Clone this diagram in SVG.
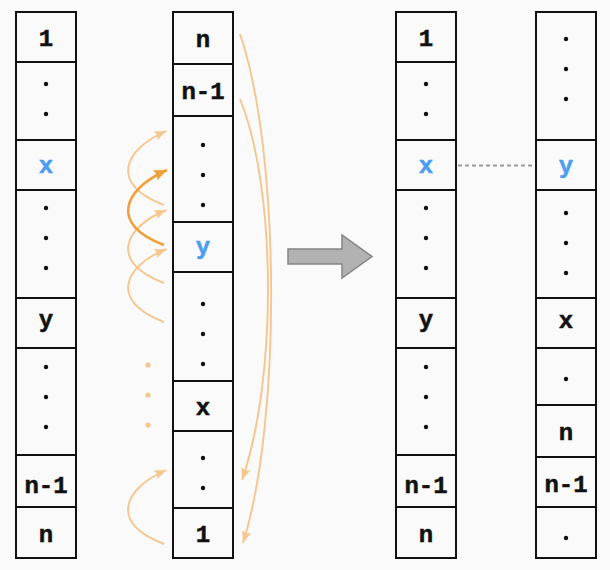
<svg xmlns="http://www.w3.org/2000/svg" width="610" height="570" viewBox="0 0 610 570">
<defs>
<style>
.cell{fill:#fafafa;stroke:#111;stroke-width:2}
.t{font-family:"Liberation Mono","DejaVu Sans Mono",monospace;font-weight:bold;font-size:24px;fill:#111;text-anchor:middle;stroke:#111;stroke-width:0.5}
.b{fill:#4a9df2;stroke:#4a9df2}
.d{fill:#111}
.lo{fill:none;stroke:#f5c68e;stroke-width:1.9}
.do{fill:none;stroke:#f0a03a;stroke-width:2.6}
.od{fill:#f5c68e}
</style>
<marker id="ahl" markerUnits="userSpaceOnUse" markerWidth="13" markerHeight="13" viewBox="0 0 13 13" refX="12" refY="6.5" orient="auto">
<path d="M0,1.8 L12,6.5 L0,11.2 L2,6.5 Z" fill="#f5c68e"/>
</marker>
<marker id="ahd" markerUnits="userSpaceOnUse" markerWidth="14" markerHeight="14" viewBox="0 0 14 14" refX="13" refY="7" orient="auto">
<path d="M0,1.5 L13,7 L0,12.5 L2,7 Z" fill="#f0a03a"/>
</marker>
</defs>
<rect width="610" height="570" fill="#fafafa"/>

<g id="col1">
<g id="c1r1"><rect class="cell" x="16" y="12" width="60" height="50"/><text class="t" x="46" y="46">1</text></g>
<g id="c1r2"><rect class="cell" x="16" y="62" width="60" height="78"/><circle class="d" cx="46" cy="84" r="2.2"/><circle class="d" cx="46" cy="114" r="2.2"/></g>
<g id="c1r3"><rect class="cell" x="16" y="140" width="60" height="50"/><text class="t b" x="46" y="173">x</text></g>
<g id="c1r4"><rect class="cell" x="16" y="190" width="60" height="108"/><circle class="d" cx="46" cy="208" r="2.2"/><circle class="d" cx="46" cy="238" r="2.2"/><circle class="d" cx="46" cy="268" r="2.2"/></g>
<g id="c1r5"><rect class="cell" x="16" y="298" width="60" height="50"/><text class="t" x="46" y="327">y</text></g>
<g id="c1r6"><rect class="cell" x="16" y="348" width="60" height="107"/><circle class="d" cx="46" cy="367" r="2.2"/><circle class="d" cx="46" cy="397" r="2.2"/><circle class="d" cx="46" cy="427" r="2.2"/></g>
<g id="c1r7"><rect class="cell" x="16" y="455" width="60" height="52"/><text class="t" x="46" y="493">n-1</text></g>
<g id="c1r8"><rect class="cell" x="16" y="507" width="60" height="51"/><text class="t" x="46" y="542">n</text></g>
</g>

<g id="col2">
<g id="c2r1"><rect class="cell" x="173" y="12" width="60" height="52"/><text class="t" x="203" y="46.5">n</text></g>
<g id="c2r2"><rect class="cell" x="173" y="64" width="60" height="52"/><text class="t" x="203" y="99">n-1</text></g>
<g id="c2r3"><rect class="cell" x="173" y="116" width="60" height="106"/><circle class="d" cx="203" cy="145" r="2.2"/><circle class="d" cx="203" cy="175" r="2.2"/><circle class="d" cx="203" cy="205" r="2.2"/></g>
<g id="c2r4"><rect class="cell" x="173" y="222" width="60" height="50"/><text class="t b" x="203" y="254">y</text></g>
<g id="c2r5"><rect class="cell" x="173" y="272" width="60" height="109"/><circle class="d" cx="203" cy="304" r="2.2"/><circle class="d" cx="203" cy="334" r="2.2"/><circle class="d" cx="203" cy="364" r="2.2"/></g>
<g id="c2r6"><rect class="cell" x="173" y="381" width="60" height="50"/><text class="t" x="203" y="415">x</text></g>
<g id="c2r7"><rect class="cell" x="173" y="431" width="60" height="77"/><circle class="d" cx="203" cy="458" r="2.2"/><circle class="d" cx="203" cy="488" r="2.2"/></g>
<g id="c2r8"><rect class="cell" x="173" y="508" width="60" height="50"/><text class="t" x="203" y="541.5">1</text></g>
</g>

<g id="col3">
<g id="c3r1"><rect class="cell" x="396" y="12" width="60" height="50"/><text class="t" x="426" y="46">1</text></g>
<g id="c3r2"><rect class="cell" x="396" y="62" width="60" height="78"/><circle class="d" cx="426" cy="84" r="2.2"/><circle class="d" cx="426" cy="114" r="2.2"/></g>
<g id="c3r3"><rect class="cell" x="396" y="140" width="60" height="50"/><text class="t b" x="426" y="173">x</text></g>
<g id="c3r4"><rect class="cell" x="396" y="190" width="60" height="108"/><circle class="d" cx="426" cy="208" r="2.2"/><circle class="d" cx="426" cy="238" r="2.2"/><circle class="d" cx="426" cy="268" r="2.2"/></g>
<g id="c3r5"><rect class="cell" x="396" y="298" width="60" height="50"/><text class="t" x="426" y="327">y</text></g>
<g id="c3r6"><rect class="cell" x="396" y="348" width="60" height="107"/><circle class="d" cx="426" cy="367" r="2.2"/><circle class="d" cx="426" cy="397" r="2.2"/><circle class="d" cx="426" cy="427" r="2.2"/></g>
<g id="c3r7"><rect class="cell" x="396" y="455" width="60" height="52"/><text class="t" x="426" y="493">n-1</text></g>
<g id="c3r8"><rect class="cell" x="396" y="507" width="60" height="51"/><text class="t" x="426" y="542">n</text></g>
</g>

<g id="col4">
<g id="c4r1"><rect class="cell" x="536" y="12" width="60" height="128"/><circle class="d" cx="566" cy="39" r="2.2"/><circle class="d" cx="566" cy="69" r="2.2"/><circle class="d" cx="566" cy="99" r="2.2"/></g>
<g id="c4r2"><rect class="cell" x="536" y="140" width="60" height="50"/><text class="t b" x="566" y="173">y</text></g>
<g id="c4r3"><rect class="cell" x="536" y="190" width="60" height="108"/><circle class="d" cx="566" cy="213" r="2.2"/><circle class="d" cx="566" cy="243" r="2.2"/><circle class="d" cx="566" cy="273" r="2.2"/></g>
<g id="c4r4"><rect class="cell" x="536" y="298" width="60" height="50"/><text class="t" x="566" y="328">x</text></g>
<g id="c4r5"><rect class="cell" x="536" y="348" width="60" height="57"/><circle class="d" cx="566" cy="379" r="2.2"/></g>
<g id="c4r6"><rect class="cell" x="536" y="405" width="60" height="52"/><text class="t" x="566" y="440">n</text></g>
<g id="c4r7"><rect class="cell" x="536" y="457" width="60" height="50"/><text class="t" x="566" y="492">n-1</text></g>
<g id="c4r8"><rect class="cell" x="536" y="507" width="60" height="51"/><circle class="d" cx="566" cy="538" r="2.2"/></g>
</g>

<g id="bigarrow">
<polygon points="288,249 342,249 342,235 372,256.5 342,278 342,264 288,264" fill="#b2b2b2" stroke="#858585" stroke-width="1.5"/>
</g>

<g id="connectors">
<path class="lo" d="M164,205 C110,185 122,150 166.5,131" marker-end="url(#ahl)"/>
<path class="lo" d="M164,283 C110,263 122,228 166.5,210" marker-end="url(#ahl)"/>
<path class="lo" d="M164,322 C110,302 122,267 166.5,249" marker-end="url(#ahl)"/>
<path class="do" d="M164,245 C110,225 122,190 167,170" marker-end="url(#ahd)"/>
<path class="lo" d="M164,544 C110,524 122,489 166.5,470" marker-end="url(#ahl)"/>
<circle class="od" cx="148" cy="365" r="2.6"/>
<circle class="od" cx="148" cy="395" r="2.6"/>
<circle class="od" cx="148" cy="425" r="2.6"/>
<path class="lo" d="M240,34 C280,150 282,420 243,543" marker-end="url(#ahl)"/>
<path class="lo" d="M240,99 C277,190 277,380 242,480" marker-end="url(#ahl)"/>
<line x1="458" y1="165.5" x2="535" y2="165.5" stroke="#9a9a9a" stroke-width="2" stroke-dasharray="4,3"/>
</g>
</svg>
